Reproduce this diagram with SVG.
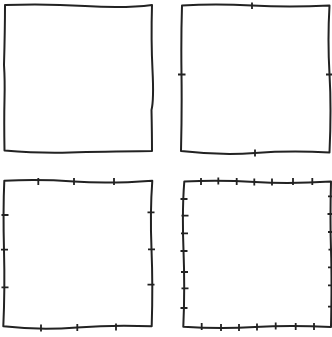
<svg xmlns="http://www.w3.org/2000/svg" width="332" height="337" viewBox="0 0 332 337">
<style>
.s{fill:none;stroke:#222;stroke-width:2;stroke-linejoin:round;stroke-linecap:round}
.t{fill:none;stroke:#222;stroke-width:1.8;stroke-linecap:butt}
</style>
<rect width="332" height="337" fill="#fff"/>
<g id="sq1">
<path class="s" d="M5,5 Q45,3.5 85,6 T152,5 Q151,40 152.5,70 T151.5,110 Q152,135 152,151 Q100,151.5 70,152.5 T4.5,150.5 Q4,120 4.5,100 T4,65 Q5,30 5,5 Z"/>
</g>
<g id="sq2">
<path class="s" d="M182,5.5 Q215,3.5 252,5.5 T329.5,5.5 Q327.5,40 329.5,74 T329.5,152.5 Q290,150.5 255,153 T181,151 Q182,110 181.5,74 T182,5.5 Z"/>
<path class="t" d="M252,2.5V9 M178,74.5H185.5 M326,74.5H332 M255,149.5V156.5"/>
</g>
<g id="sq3">
<path class="s" d="M4.3,180.7 Q40,179 74,181.5 T152.3,180.7 Q150,212 151.5,249 T151.7,326.3 Q115,324.5 77,327.5 T3.3,326.3 Q5,290 4,250 T4.3,180.7 Z"/>
<path class="t" d="M38.3,178V185 M74,178V185 M114,178V185 M1.5,215H8.5 M1,249.7H8 M1.5,287.3H8.5 M147.5,212.3H154.5 M148,249.3H155 M147.5,284.7H154.5 M41,324.5V331.5 M77.3,324V331 M116,323.5V330.5"/>
</g>
<g id="sq4">
<path class="s" d="M184.3,181.5 Q220,180 255,182 T331,181.5 Q330,220 331,250 T331,327 Q290,325 255,327 T183.3,326.7 Q185,290 183.5,250 T184.3,181.5 Z"/>
<path class="t" d="M201,178V185 M218.3,177.5V184.5 M236.7,178V185 M254.3,178.5V185.5 M272,178.5V185.5 M293,178V185 M312.3,178V185 M201.7,323V330 M221,324V331 M239,324V331 M257,323.5V330.5 M275.7,322.5V329.5 M295.7,323V330 M314,323V330 M180.5,199H187.5 M181.5,215.7H188.5 M181,233.3H188 M180.5,251H187.5 M181,272H188 M181.5,288.3H188.5 M180.5,308H187.5 M328,196.3H332 M327.5,214H332 M328,232H332 M328.5,249.7H332 M328,267.3H332 M328,285.3H332 M328,306.7H332"/>
</g>
</svg>
